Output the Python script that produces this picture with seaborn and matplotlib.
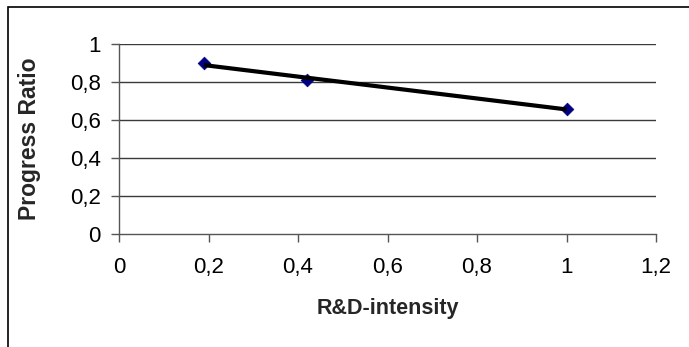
import matplotlib
matplotlib.use("Agg")
import matplotlib.pyplot as plt
from matplotlib.patches import Rectangle
import seaborn as sns
import pandas as pd

# Data
rd_intensity = [0.19, 0.42, 1.0]
progress_ratio = [0.90, 0.81, 0.66]
x_ticks = [0, 0.2, 0.4, 0.6, 0.8, 1.0, 1.2]
x_tick_labels = ["0", "0,2", "0,4", "0,6", "0,8", "1", "1,2"]
y_ticks = [0, 0.2, 0.4, 0.6, 0.8, 1.0]
y_tick_labels = ["0", "0,2", "0,4", "0,6", "0,8", "1"]
x_label = "R&D-intensity"
y_label = "Progress Ratio"

sns.set_style("white")
plt.rcParams['font.family'] = ['Liberation Sans', 'DejaVu Sans']

df = pd.DataFrame({"x": rd_intensity, "y": progress_ratio})

W, H = 689, 347
fig = plt.figure(figsize=(W / 100, H / 100), dpi=100)
ax = fig.add_axes([119 / W, 1 - 233.7 / H, (656 - 119) / W, (233.7 - 44.3) / H])

sns.regplot(data=df, x="x", y="y", ax=ax, ci=None, truncate=True,
            marker="D",
            scatter_kws=dict(s=42, color="#000080", edgecolor="#000080",
                             linewidths=0.5, alpha=1, zorder=3),
            line_kws=dict(color="black", lw=3, zorder=4, solid_capstyle="butt"))

ax.set_xlim(0, 1.2)
ax.set_ylim(0, 1.0)
ax.set_xticks(x_ticks)
ax.set_xticklabels(x_tick_labels)
ax.set_yticks(y_ticks)
ax.set_yticklabels(y_tick_labels)

for yv in y_ticks[1:]:
    ax.axhline(yv, color="#3a3a3a", lw=1, zorder=1)

for s in ["top", "right"]:
    ax.spines[s].set_visible(False)
for s in ["left", "bottom"]:
    ax.spines[s].set_color("#555555")
    ax.spines[s].set_linewidth(1)
ax.spines["bottom"].set_zorder(1)

ax.tick_params(axis="both", which="major", direction="out", length=6, width=1,
               color="#555555", labelsize=16, labelcolor="black")
ax.tick_params(axis="x", pad=11, bottom=True)
ax.tick_params(axis="y", pad=7, left=True)

ax.set_xlabel(x_label, fontsize=15.5, fontweight="bold", labelpad=14)
ax.set_ylabel(y_label, fontsize=16.5, fontweight="bold", labelpad=21)

fig.patches.append(Rectangle((7.5 / W, -0.2), 1.3, 1.2 - 6.5 / H,
                             transform=fig.transFigure, fill=False,
                             edgecolor="black", linewidth=1.2))

fig.savefig("out.png", dpi=100)
